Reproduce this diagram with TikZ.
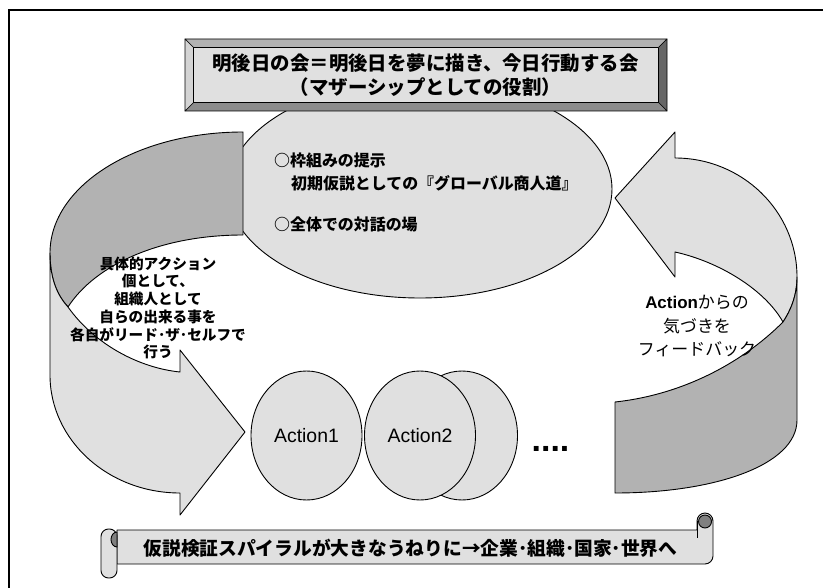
\documentclass[tikz,border=0pt]{standalone}
\usepackage{fontspec}
\setmainfont{Liberation Sans}
\newfontfamily\jp{Noto Sans CJK JP}
\newfontfamily\lat{Liberation Sans}
\usetikzlibrary{shapes.geometric}
\definecolor{bandDark}{HTML}{B2B2B2}
\definecolor{bandLight}{HTML}{E0E0E0}
\definecolor{bevTop}{HTML}{B2B2B2}
\definecolor{bevLeft}{HTML}{D4D4D4}
\definecolor{bevBottom}{HTML}{8C8C8C}
\definecolor{bevRight}{HTML}{666666}
\definecolor{curlDark}{HTML}{808080}
\begin{document}
\begin{tikzpicture}[x=1bp,y=-1bp,
  outline/.style={draw=black, line width=0.9bp, line join=round},
  darkband/.style={outline, fill=bandDark},
  lightband/.style={outline, fill=bandLight},
  bevel/.style={outline, line width=0.6bp},
  blob/.style={ellipse, outline, fill=bandLight, inner sep=0pt},
  titletext/.style={font=\jp\bfseries\fontsize{19.5}{24}\selectfont, align=center, inner sep=0pt},
  hubtext/.style={font=\jp\bfseries\fontsize{16}{20}\selectfont, inner sep=0pt, anchor=west},
  lefttext/.style={font=\jp\bfseries\fontsize{14.7}{17.8}\selectfont, align=center, inner sep=0pt},
  righttext/.style={font=\jp\fontsize{17}{24}\selectfont, align=center, inner sep=0pt},
  actiontext/.style={font=\lat\fontsize{19.5}{23}\selectfont, inner sep=0pt},
  scrolltext/.style={font=\jp\bfseries\fontsize{18.8}{23}\selectfont, inner sep=0pt},
  scrollfill/.style={outline, fill=bandLight}
]
\useasboundingbox (0,0) rectangle (823,588);
\fill[white] (0,0) rectangle (823,588);
% frame
\draw[line width=1.6bp, black] (823,10) -- (9,10) -- (9,588);

% central ellipse
\node (hub) [blob, minimum width=384bp, minimum height=218bp] at (420,189) {};

% left circular arrow
\draw[darkband] (243,132) .. controls (136,132) and (50,186) .. (50,253)
  .. controls (50,280) and (58,296) .. (68,307)
  .. controls (95,265) and (160,235) .. (243,235) -- cycle;
\draw[lightband] (50,253) -- (50,375) .. controls (50,440) and (108,493) .. (180,493)
  -- (180,515) -- (245,432) -- (180,350) -- (180,372)
  .. controls (140,368) and (95,345) .. (68,307)
  .. controls (58,296) and (50,280) .. (50,253) -- cycle;

% right circular arrow
\draw[lightband] (615,198) -- (675,132) -- (675,158)
  .. controls (742,158) and (797,211) .. (797,277)
  .. controls (797,295) and (791,310) .. (783,322)
  .. controls (765,290) and (720,262) .. (675,252) -- (675,277) -- cycle;
\draw[darkband] (797,277) -- (797,420) .. controls (797,465) and (715,493) .. (615,493)
  -- (615,402) .. controls (680,395) and (740,365) .. (783,322)
  .. controls (791,310) and (797,295) .. (797,277) -- cycle;

% title bevel box
\coordinate (otl) at (185,39);   \coordinate (otr) at (667,39);
\coordinate (obr) at (667,111);  \coordinate (obl) at (185,111);
\coordinate (itl) at (193.5,47.5); \coordinate (itr) at (658.5,47.5);
\coordinate (ibr) at (658.5,102.5); \coordinate (ibl) at (193.5,102.5);
\draw[bevel, fill=bevTop] (otl) -- (otr) -- (itr) -- (itl) -- cycle;
\draw[bevel, fill=bevRight] (otr) -- (obr) -- (ibr) -- (itr) -- cycle;
\draw[bevel, fill=bevBottom] (obr) -- (obl) -- (ibl) -- (ibr) -- cycle;
\draw[bevel, fill=bevLeft] (obl) -- (otl) -- (itl) -- (ibl) -- cycle;
\draw[bevel, fill=bandLight] (itl) rectangle (ibr);
\node (title) [titletext] at (425.5,75) {明後日の会＝明後日を夢に描き、今日行動する会\\（マザーシップとしての役割）};

% hub texts
\node (h1) [hubtext] at (274,160) {○枠組みの提示};
\node (h2) [hubtext] at (291,183) {初期仮説としての『グローバル商人道』};
\node (h3) [hubtext] at (274,224) {○全体での対話の場};

% left / right texts
\node (ltext) [lefttext] at (158,308) {具体的アクション\\個として、\\組織人として\\自らの出来る事を\\各自がリード･ザ･セルフで\\行う};
\node (rtext) [righttext] at (697,326) {{\lat\bfseries Action}からの\\気づきを\\フィードバック};

% action blobs
\node (a3) [blob, minimum width=111bp, minimum height=129bp] at (462,435.5) {};
\node (a2) [blob, minimum width=111bp, minimum height=129bp] at (420,435.5) {};
\node (a1) [blob, minimum width=111bp, minimum height=129bp] at (306.5,435.5) {};
\node (a1t) [actiontext] at (a1) {Action1};
\node (a2t) [actiontext] at (a2) {Action2};
\node (dots) [font=\lat\bfseries\fontsize{34}{34}\selectfont, inner sep=0pt, anchor=base] at (550.5,451) {....};

% scroll banner
\draw[scrollfill] (117,530) -- (697,530) -- (697,521) arc[start angle=180, end angle=360, radius=8]
  -- (713,556) arc[start angle=0, end angle=90, radius=8] -- (117,564) -- cycle;
\draw[outline, fill=curlDark] (705,521.5) circle[radius=6.5];
\draw[outline, line width=0.6bp] (697,521) -- (697,538);
\draw[scrollfill, rounded corners=7.5bp] (101,529) rectangle (117,578);
\draw[outline, fill=curlDark] (117,532) arc[start angle=270, end angle=90, x radius=6, y radius=7.5] -- cycle;
\node (scroll) [scrolltext] at (410.5,548) {仮説検証スパイラルが大きなうねりに→企業･組織･国家･世界へ};
\end{tikzpicture}
\end{document}
